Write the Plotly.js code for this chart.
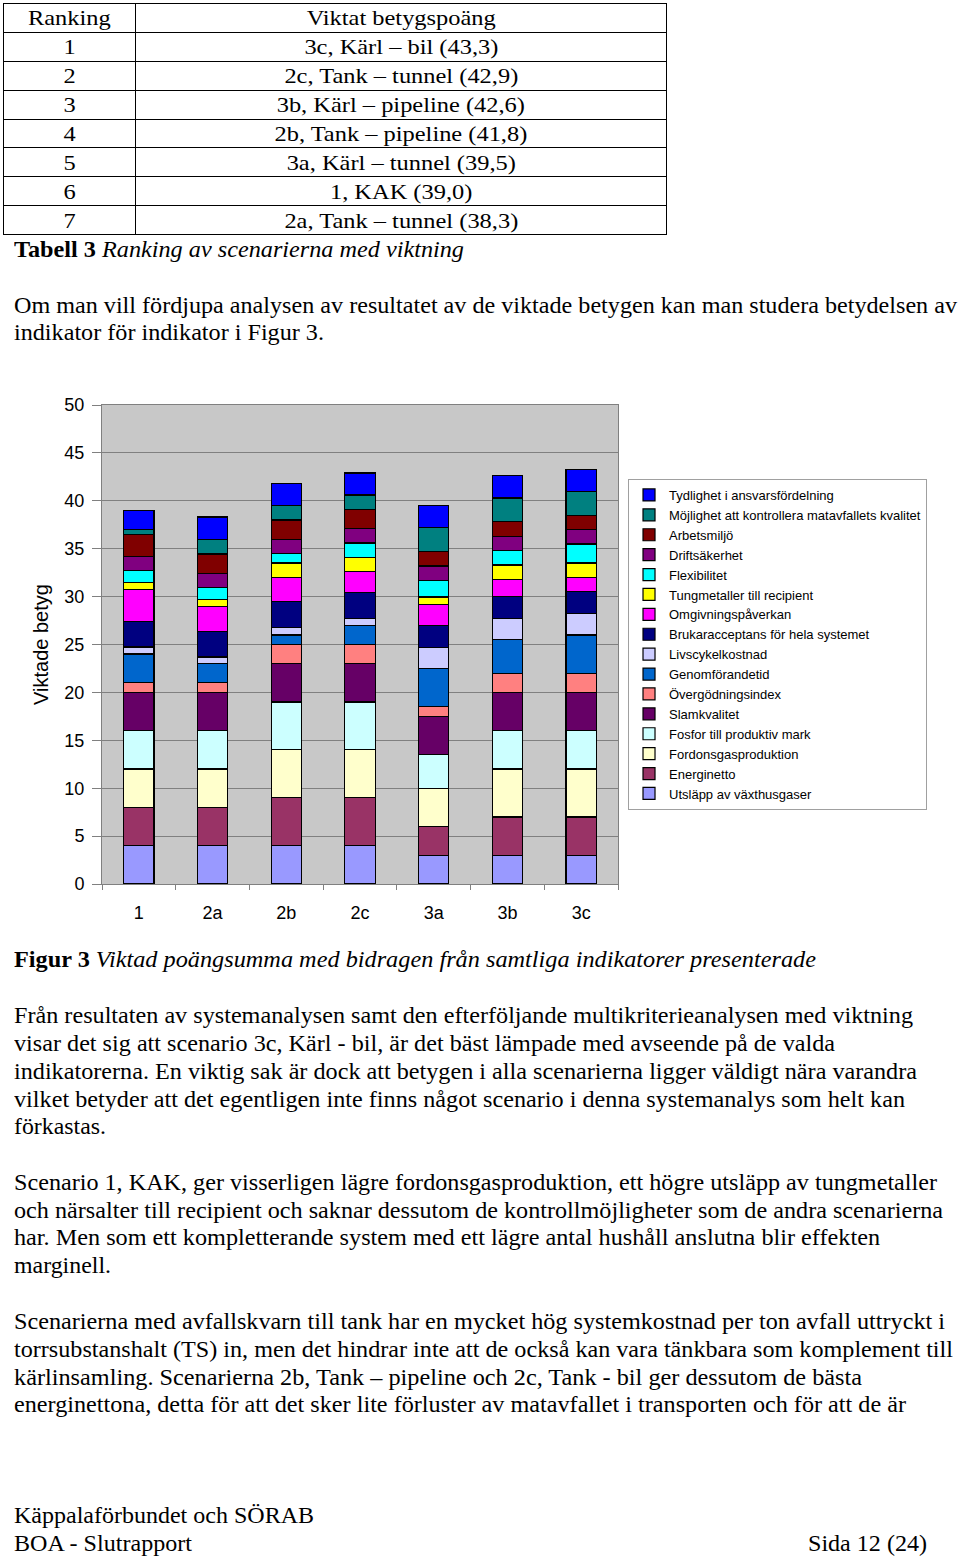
<!DOCTYPE html>
<html>
<head>
<meta charset="utf-8">
<script src="https://cdn.plot.ly/plotly-3.0.1.min.js"></script>
<style>
  html, body { margin:0; padding:0; background:#fff; }
  body { width:960px; height:1560px; position:relative; overflow:hidden; font-family:"Liberation Serif","Times New Roman",serif; color:#000; }
  .ln { position:absolute; left:14px; font-size:23px; line-height:28px; height:28px; white-space:nowrap; transform-origin:0 50%; }
  table.rk { position:absolute; left:3px; top:3px; width:664px; border-collapse:collapse; border:1.5px solid #000; font-size:22px; }
  table.rk td { border:1px solid #000; height:27.9px; padding:0; text-align:center; line-height:27px; }
  table.rk td span { display:inline-block; transform:scaleX(1.11); transform-origin:50% 50%; }
  #chart { position:absolute; left:0; top:380px; width:960px; height:560px; }
</style>
</head>
<body>

<table class="rk">
  <tr><td style="width:131px"><span>Ranking</span></td><td><span>Viktat betygspoäng</span></td></tr>
  <tr><td><span>1</span></td><td><span>3c, Kärl – bil (43,3)</span></td></tr>
  <tr><td><span>2</span></td><td><span>2c, Tank – tunnel (42,9)</span></td></tr>
  <tr><td><span>3</span></td><td><span>3b, Kärl – pipeline (42,6)</span></td></tr>
  <tr><td><span>4</span></td><td><span>2b, Tank – pipeline (41,8)</span></td></tr>
  <tr><td><span>5</span></td><td><span>3a, Kärl – tunnel (39,5)</span></td></tr>
  <tr><td><span>6</span></td><td><span>1, KAK (39,0)</span></td></tr>
  <tr><td><span>7</span></td><td><span>2a, Tank – tunnel (38,3)</span></td></tr>
</table>

<div class="ln" style="top:236px" data-w="450"><b>Tabell 3</b> <i>Ranking av scenarierna med viktning</i></div>
<div class="ln" style="top:292px" data-w="943">Om man vill fördjupa analysen av resultatet av de viktade betygen kan man studera betydelsen av</div>
<div class="ln" style="top:319px" data-w="310">indikator för indikator i Figur 3.</div>

<div id="chart"></div>

<div class="ln" style="top:946px" data-w="802"><b>Figur 3</b> <i>Viktad poängsumma med bidragen från samtliga indikatorer presenterade</i></div>

<div class="ln" style="top:1002px" data-w="899">Från resultaten av systemanalysen samt den efterföljande multikriterieanalysen med viktning</div>
<div class="ln" style="top:1030px" data-w="821">visar det sig att scenario 3c, Kärl - bil, är det bäst lämpade med avseende på de valda</div>
<div class="ln" style="top:1058px" data-w="903">indikatorerna. En viktig sak är dock att betygen i alla scenarierna ligger väldigt nära varandra</div>
<div class="ln" style="top:1086px" data-w="891">vilket betyder att det egentligen inte finns något scenario i denna systemanalys som helt kan</div>
<div class="ln" style="top:1113px" data-w="92">förkastas.</div>

<div class="ln" style="top:1169px" data-w="923">Scenario 1, KAK, ger visserligen lägre fordonsgasproduktion, ett högre utsläpp av tungmetaller</div>
<div class="ln" style="top:1197px" data-w="929">och närsalter till recipient och saknar dessutom de kontrollmöjligheter som de andra scenarierna</div>
<div class="ln" style="top:1224px" data-w="866">har. Men som ett kompletterande system med ett lägre antal hushåll anslutna blir effekten</div>
<div class="ln" style="top:1252px" data-w="97">marginell.</div>

<div class="ln" style="top:1308px" data-w="931">Scenarierna med avfallskvarn till tank har en mycket hög systemkostnad per ton avfall uttryckt i</div>
<div class="ln" style="top:1336px" data-w="939">torrsubstanshalt (TS) in, men det hindrar inte att de också kan vara tänkbara som komplement till</div>
<div class="ln" style="top:1364px" data-w="848">kärlinsamling. Scenarierna 2b, Tank – pipeline och 2c, Tank - bil ger dessutom de bästa</div>
<div class="ln" style="top:1391px" data-w="892">energinettona, detta för att det sker lite förluster av matavfallet i transporten och för att de är</div>

<div class="ln" style="top:1502px" data-w="300">Käppalaförbundet och SÖRAB</div>
<div class="ln" style="top:1530px" data-w="178">BOA - Slutrapport</div>
<div class="ln" style="top:1530px;left:808px" data-w="119">Sida 12 (24)</div>

<script>
// ---- chart data ----
const categories = ['1', '2a', '2b', '2c', '3a', '3b', '3c'];

const seriesNames = [
  'Utsläpp av växthusgaser',
  'Energinetto',
  'Fordonsgasproduktion',
  'Fosfor till produktiv mark',
  'Slamkvalitet',
  'Övergödningsindex',
  'Genomförandetid',
  'Livscykelkostnad',
  'Brukaracceptans för hela systemet',
  'Omgivningspåverkan',
  'Tungmetaller till recipient',
  'Flexibilitet',
  'Driftsäkerhet',
  'Arbetsmiljö',
  'Möjlighet att kontrollera matavfallets kvalitet',
  'Tydlighet i ansvarsfördelning'
];

const utslapp      = [4.0, 4.0, 4.0, 4.0, 3.0, 3.0, 3.0];
const energinetto  = [4.0, 4.0, 5.0, 5.0, 3.0, 4.0, 4.0];
const fordonsgas   = [4.0, 4.0, 5.0, 5.0, 4.0, 5.0, 5.0];
const fosfor       = [4.0, 4.0, 5.0, 5.0, 3.5, 4.0, 4.0];
const slamkvalitet = [4.0, 4.0, 4.0, 4.0, 4.0, 4.0, 4.0];
const overgodning  = [1.0, 1.0, 2.0, 2.0, 1.0, 2.0, 2.0];
const genomforande = [3.0, 2.0, 1.0, 2.0, 4.0, 3.5, 4.0];
const livscykel    = [0.75, 0.7, 0.75, 0.7, 2.2, 2.2, 2.2];
const bruk         = [2.65, 2.65, 2.7, 2.7, 2.3, 2.3, 2.3];
const omgivning    = [3.3, 2.6, 2.55, 2.2, 2.2, 1.8, 1.5];
const tungmetaller = [0.75, 0.75, 1.5, 1.5, 0.75, 1.5, 1.5];
const flexibilitet = [1.25, 1.25, 1.0, 1.5, 1.75, 1.5, 2.0];
const drift        = [1.5, 1.5, 1.5, 1.5, 1.5, 1.5, 1.5];
const arbetsmiljo  = [2.3, 2.0, 2.0, 2.0, 1.5, 1.5, 1.5];
const mojlighet    = [0.5, 1.5, 1.5, 1.5, 2.5, 2.5, 2.5];
const tydlighet    = [2.0, 2.35, 2.3, 2.3, 2.3, 2.3, 2.3];

const seriesValues = [utslapp, energinetto, fordonsgas, fosfor, slamkvalitet, overgodning,
  genomforande, livscykel, bruk, omgivning, tungmetaller, flexibilitet, drift,
  arbetsmiljo, mojlighet, tydlighet];

const seriesColors = ['#9999FF', '#993366', '#FFFFCC', '#CCFFFF', '#660066', '#FF8080',
  '#0066CC', '#CCCCFF', '#000080', '#FF00FF', '#FFFF00', '#00FFFF', '#800080',
  '#800000', '#008080', '#0000FF'];

const yTickVals = [0, 5, 10, 15, 20, 25, 30, 35, 40, 45, 50];

const traces = seriesNames.map((name, i) => ({
  type: 'bar',
  name: name,
  x: categories,
  y: seriesValues[i],
  marker: { color: seriesColors[i], line: { color: '#000000', width: 1.2 } },
  hoverinfo: 'none'
}));

const sans = 'Liberation Sans, Arial, sans-serif';
const layout = {
  width: 960, height: 560,
  margin: { l: 102, r: 342, t: 25, b: 56, autoexpand: false },
  paper_bgcolor: 'rgba(0,0,0,0)',
  plot_bgcolor: '#c8c8c8',
  barmode: 'stack',
  bargap: 0.59,
  font: { family: sans, color: '#000' },
  xaxis: {
    type: 'category',
    showline: true, linecolor: '#808080', linewidth: 1, mirror: true,
    ticks: 'outside', tickson: 'boundaries', ticklen: 5, tickcolor: '#808080',
    tickfont: { family: sans, size: 18, color: '#000' },
    ticklabelstandoff: 12,
    showgrid: false, zeroline: false, fixedrange: true
  },
  yaxis: {
    range: [0, 50], tickvals: yTickVals, ticktext: yTickVals.map(String),
    showgrid: true, gridcolor: '#808080', gridwidth: 1,
    showline: true, linecolor: '#808080', linewidth: 1, mirror: true,
    ticks: 'outside', ticklen: 9, tickcolor: '#808080',
    tickfont: { family: sans, size: 18, color: '#000' },
    ticklabelstandoff: 4,
    zeroline: false, fixedrange: true,
    title: { text: 'Viktade betyg', font: { family: sans, size: 20, color: '#000' }, standoff: 10 }
  },
  legend: {
    x: 1.0194, y: 0.8455, xanchor: 'left', yanchor: 'top',
    bgcolor: '#ffffff', bordercolor: '#a0a0a0', borderwidth: 1,
    font: { family: sans, size: 13, color: '#000' },
    traceorder: 'reversed'
  },
  showlegend: true
};

Plotly.newPlot('chart', traces, layout, { displayModeBar: false, staticPlot: true });

// fit text lines to the widths in the reference page
function fitLines() {
  document.querySelectorAll('.ln').forEach(el => {
    const target = parseFloat(el.getAttribute('data-w'));
    el.style.transform = 'none';
    const w = el.getBoundingClientRect().width;
    if (w > 0 && target) el.style.transform = 'scaleX(' + (target / w) + ')';
  });
}
fitLines();
if (document.fonts && document.fonts.ready) document.fonts.ready.then(fitLines);
</script>
</body>
</html>
